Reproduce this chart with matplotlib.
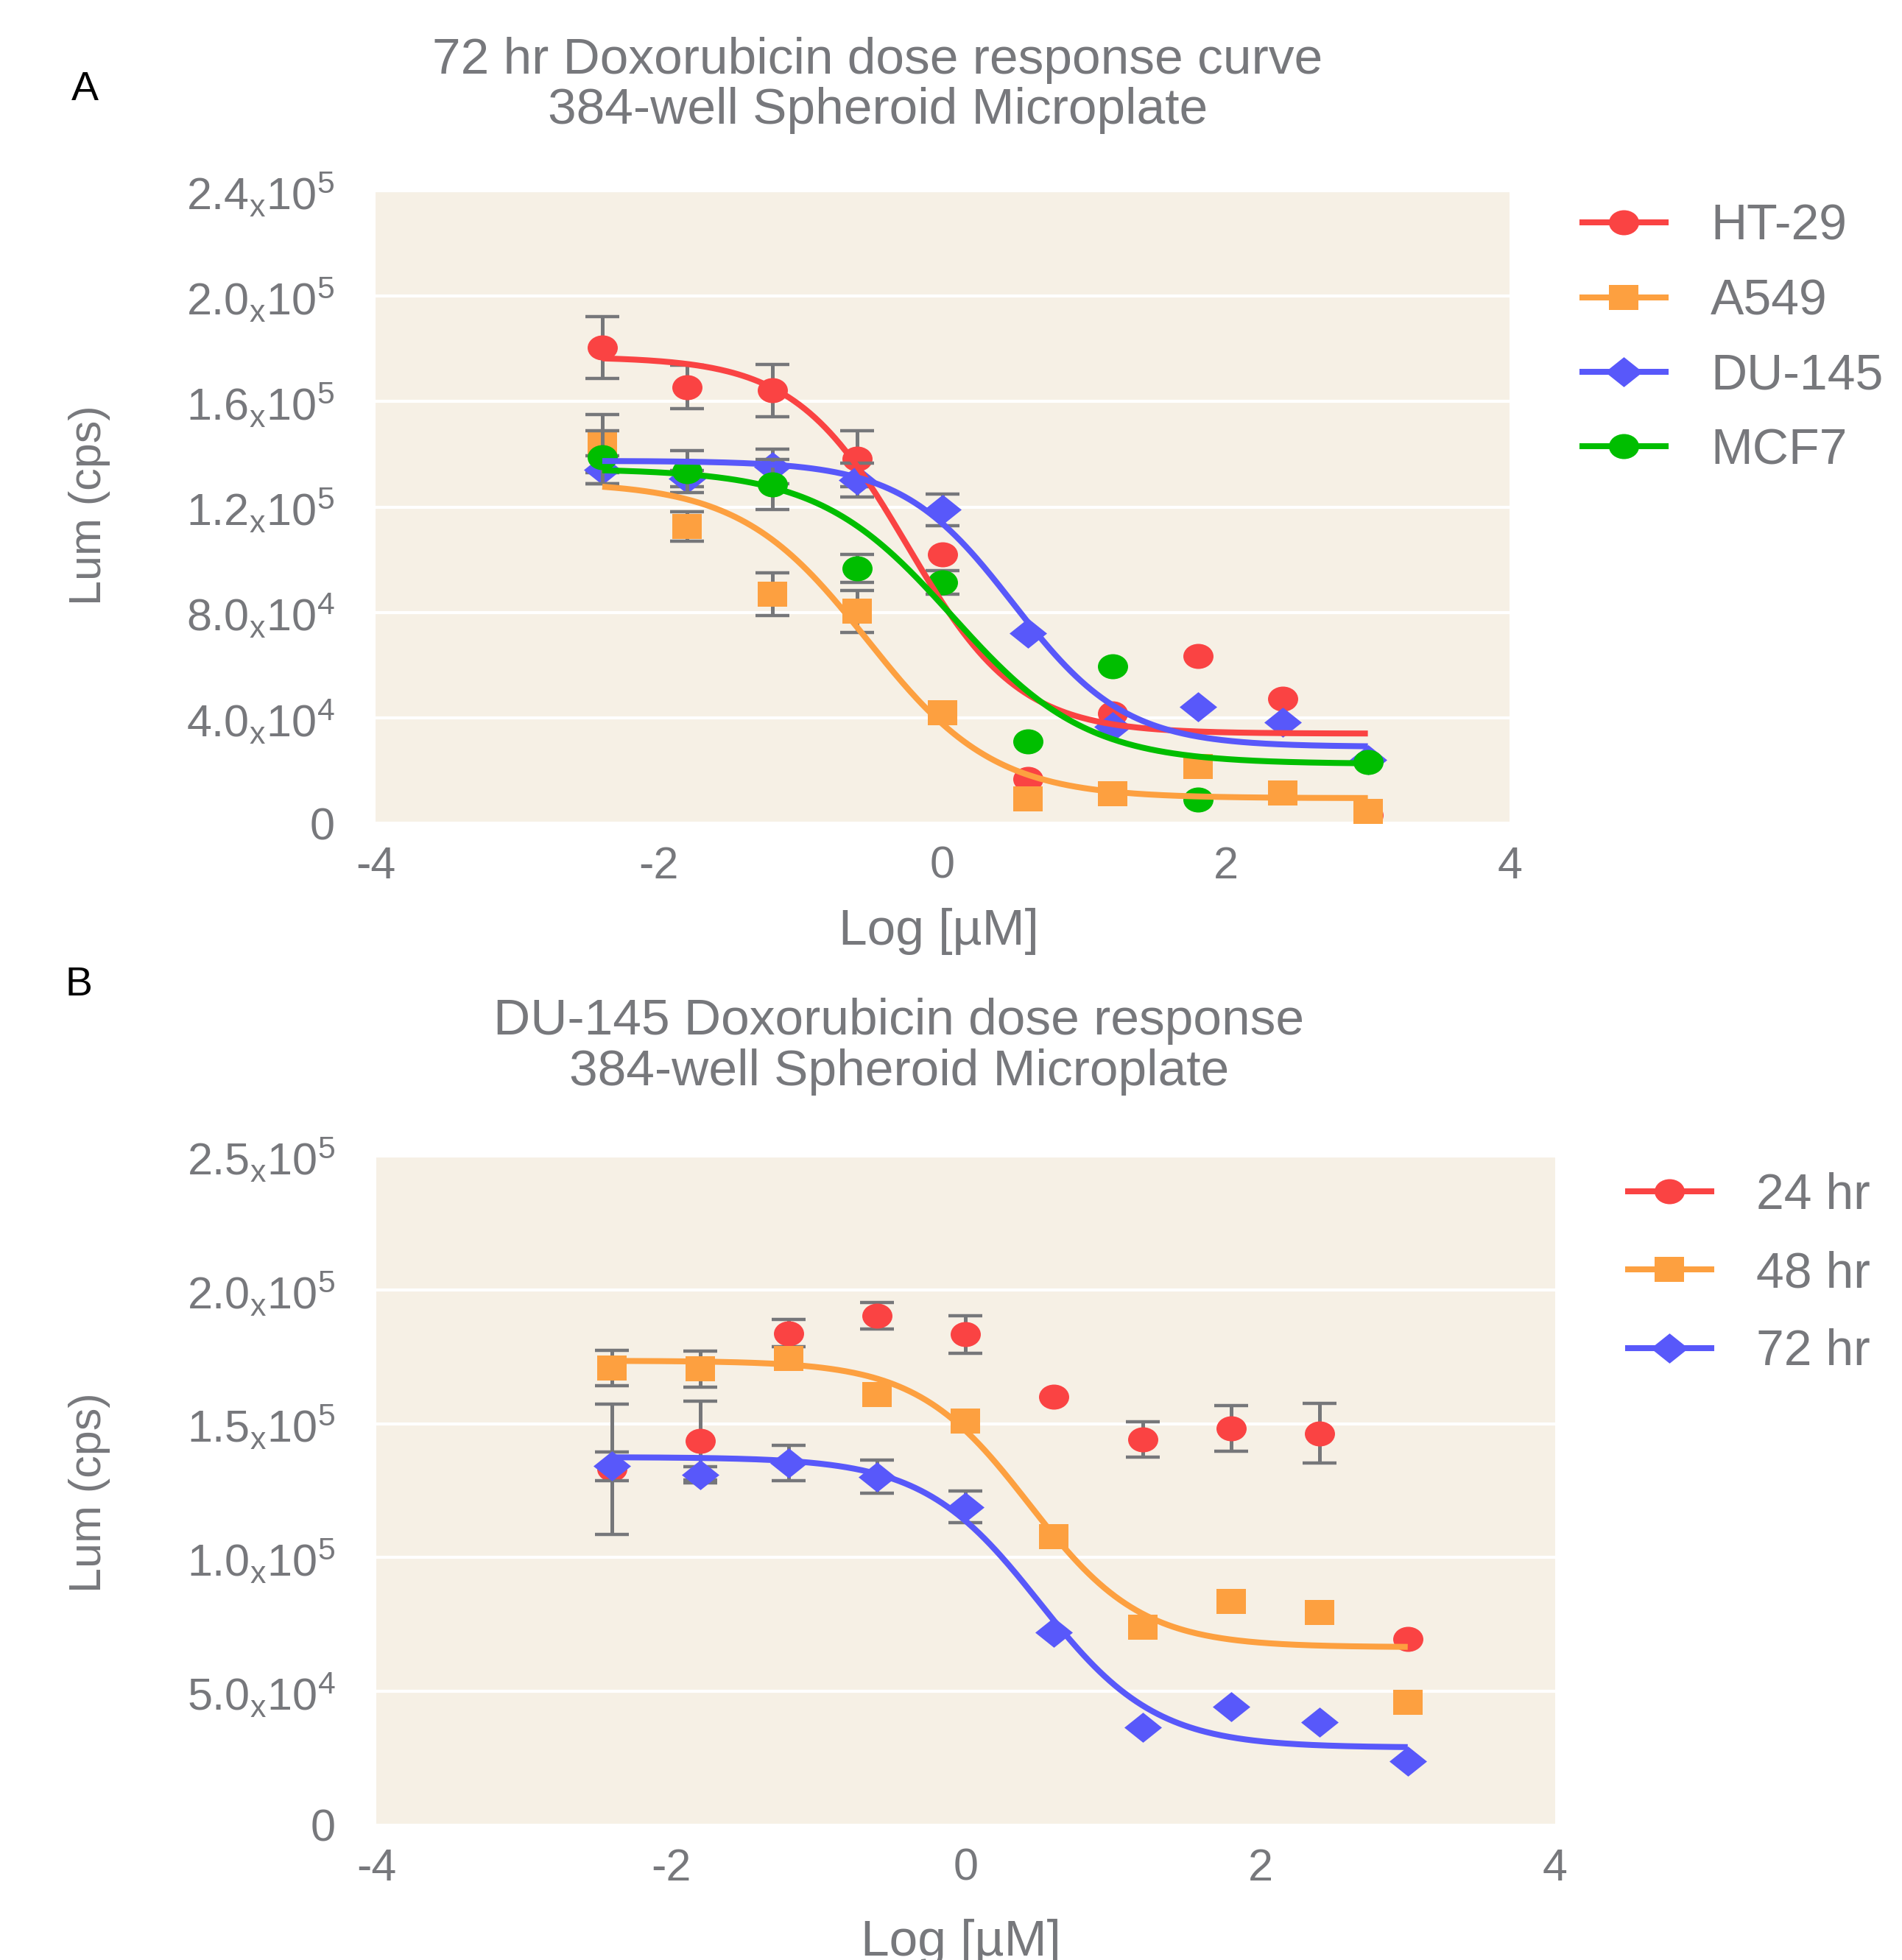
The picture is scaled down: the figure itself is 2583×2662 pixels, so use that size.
import matplotlib
matplotlib.use("Agg")
import matplotlib.pyplot as plt
import numpy as np
from matplotlib.path import Path
from matplotlib.transforms import Affine2D
from matplotlib.lines import Line2D

plt.rcParams['font.family'] = ['Liberation Sans', 'DejaVu Sans']
plt.rcParams['mathtext.fontset'] = 'custom'
plt.rcParams['mathtext.rm'] = 'Liberation Sans'
plt.rcParams['mathtext.it'] = 'Liberation Sans:italic'

# ---- data (values in counts, x = log[uM]) ----
log_conc = [-2.4, -1.8, -1.2, -0.6, 0.0, 0.6, 1.2, 1.8, 2.4, 3.0]
nan = np.nan

ht29 = [180500, 165500, 164200, 138300, 101900, 16700, 41600, 63300, 47100, 3000]
ht29_err = [11700, 8200, 10000, 10500, nan, nan, nan, nan, nan, nan]
a549 = [144000, 112600, 86800, 80400, 42000, 9200, 11200, 21600, 11500, 4400]
a549_err = [11000, 5700, 8100, 7900, nan, nan, nan, nan, nan, nan]
du145 = [134100, 130800, 135300, 130200, 118900, 72000, 36500, 44200, 38400, 24000]
du145_err = [5400, 3000, 6600, 6300, 5900, nan, nan, nan, nan, nan]
mcf7 = [138800, 133500, 128500, 96800, 91300, 30900, 59500, 9000, nan, 23200]
mcf7_err = [10000, 8000, 9400, 5300, 4500, nan, nan, nan, nan, nan]

hr24 = [133000, 143600, 183800, 190300, 183400, 160000, 144100, 148300, 146400, 69600]
hr24_err = [24400, 14700, 5000, 5000, 7000, nan, 6700, 8500, 11100, nan]
hr48 = [170800, 170400, 174300, 160900, 151000, 107700, 73900, 83500, 79500, 45800]
hr48_err = [6600, 6700, nan, nan, nan, nan, nan, nan, nan, nan]
hr72 = du145
hr72_err = du145_err

# 4PL fit parameters: top, bottom, logIC50, hill
fit_ht29 = [177000, 34000, -0.25, 1.1]
fit_a549 = [129500, 9500, -0.53, 0.97]
fit_du145 = [137500, 29000, 0.5, 1.1]
fit_mcf7 = [134500, 22500, 0.07, 0.92]
fit_hr48 = [173500, 66500, 0.43, 1.14]

xticks = [-4, -2, 0, 2, 4]
xtick_labels = ["-4", "-2", "0", "2", "4"]
yticks_a = [0, 40000, 80000, 120000, 160000, 200000, 240000]
ytick_labels_a = ["0",
                  r"$\mathrm{4.0}_{\mathrm{x}}\mathrm{10}^{\mathrm{4}}$",
                  r"$\mathrm{8.0}_{\mathrm{x}}\mathrm{10}^{\mathrm{4}}$",
                  r"$\mathrm{1.2}_{\mathrm{x}}\mathrm{10}^{\mathrm{5}}$",
                  r"$\mathrm{1.6}_{\mathrm{x}}\mathrm{10}^{\mathrm{5}}$",
                  r"$\mathrm{2.0}_{\mathrm{x}}\mathrm{10}^{\mathrm{5}}$",
                  r"$\mathrm{2.4}_{\mathrm{x}}\mathrm{10}^{\mathrm{5}}$"]
yticks_b = [0, 50000, 100000, 150000, 200000, 250000]
ytick_labels_b = ["0",
                  r"$\mathrm{5.0}_{\mathrm{x}}\mathrm{10}^{\mathrm{4}}$",
                  r"$\mathrm{1.0}_{\mathrm{x}}\mathrm{10}^{\mathrm{5}}$",
                  r"$\mathrm{1.5}_{\mathrm{x}}\mathrm{10}^{\mathrm{5}}$",
                  r"$\mathrm{2.0}_{\mathrm{x}}\mathrm{10}^{\mathrm{5}}$",
                  r"$\mathrm{2.5}_{\mathrm{x}}\mathrm{10}^{\mathrm{5}}$"]

# ---- styles ----
RED = "#FA4343"
ORANGE = "#FDA040"
BLUE = "#5858FA"
GREEN = "#00BE00"
BG = "#F6F0E5"
GRAY = "#77787C"
ERR = "#76777A"

ellipse = Path.unit_circle().transformed(Affine2D().scale(1, 0.83))
square = Path([(-1, -0.85), (1, -0.85), (1, 0.85), (-1, 0.85), (-1, -0.85)],
              [Path.MOVETO, Path.LINETO, Path.LINETO, Path.LINETO, Path.CLOSEPOLY])
diamond = Path([(0, 0.8), (1, 0), (0, -0.8), (-1, 0), (0, 0.8)],
               [Path.MOVETO, Path.LINETO, Path.LINETO, Path.LINETO, Path.CLOSEPOLY])
msize = {id(ellipse): 29.5, id(square): 29.5, id(diamond): 36.7}


def four_pl(x, p):
    top, bottom, c, h = p
    return bottom + (top - bottom) / (1 + 10 ** ((x - c) * h))


def draw_panel(ax, series, yticks, ylabels):
    ax.set_facecolor(BG)
    for s in ax.spines.values():
        s.set_visible(False)
    xs = np.array(log_conc)
    for vals, err, color, mk, fit in series:
        ax.errorbar(xs, vals, yerr=err, fmt='none', ecolor=ERR, elinewidth=3.6,
                    capsize=16.5, capthick=3.2, zorder=2)
        ax.plot(xs, vals, linestyle='none', marker=mk, ms=msize[id(mk)],
                color=color, mew=0, zorder=2)
    for vals, err, color, mk, fit in series:
        if fit is not None:
            xf = np.linspace(xs[0], xs[-1], 300)
            ax.plot(xf, four_pl(xf, fit), color=color, lw=5.8, zorder=3,
                    solid_capstyle='butt')
    ax.set_xlim(-4, 4)
    ax.set_ylim(yticks[0], yticks[-1])
    ax.set_xticks(xticks)
    ax.set_xticklabels(xtick_labels)
    ax.set_yticks(yticks)
    ax.set_yticklabels(ylabels)
    ax.grid(axis='y', color='white', lw=3)
    ax.set_axisbelow(True)
    ax.tick_params(axis='both', length=0, labelsize=44, labelcolor=GRAY)
    ax.tick_params(axis='y', pad=40)
    ax.tick_params(axis='x', pad=22)


def add_legend(ax, series, labels, anchor, spacing):
    handles = [Line2D([0], [0], color=c, lw=5.8, marker=mk, ms=msize[id(mk)], mew=0)
               for _, _, c, mk, _ in series]
    leg = ax.legend(handles, labels, loc='upper left', bbox_to_anchor=anchor,
                    bbox_transform=fig.transFigure, frameon=False, fontsize=49,
                    borderpad=0, borderaxespad=0, handlelength=1.66,
                    handletextpad=0.9, labelspacing=spacing, numpoints=1)
    for t in leg.get_texts():
        t.set_color(GRAY)


fig = plt.figure(figsize=(25.83, 26.62), dpi=100)

ax_a = fig.add_axes([0.1974, 0.58, 0.5963, 0.3227])
series_a = [(ht29, ht29_err, RED, ellipse, fit_ht29),
            (a549, a549_err, ORANGE, square, fit_a549),
            (du145, du145_err, BLUE, diamond, fit_du145),
            (mcf7, mcf7_err, GREEN, ellipse, fit_mcf7)]
draw_panel(ax_a, series_a, yticks_a, ytick_labels_a)
add_legend(ax_a, series_a, ["HT-29", "A549", "DU-145", "MCF7"],
           (2149 / 2583, 1 - 276 / 2662), 0.55)

ax_b = fig.add_axes([0.1978, 0.06875, 0.6198, 0.3415])
series_b = [(hr24, hr24_err, RED, ellipse, None),
            (hr48, hr48_err, ORANGE, square, fit_hr48),
            (hr72, hr72_err, BLUE, diamond, fit_du145)]
draw_panel(ax_b, series_b, yticks_b, ytick_labels_b)
add_legend(ax_b, series_b, ["24 hr", "48 hr", "72 hr"],
           (2211 / 2583, 1 - 1592 / 2662), 0.62)

W, H = 2583, 2662
fig.text(1192 / W, 1 - 116 / H, "72 hr Doxorubicin dose response curve\n384-well Spheroid Microplate",
         ha='center', va='center', fontsize=50, color=GRAY, linespacing=1.1)
fig.text(1221 / W, 1 - 1421 / H, "DU-145 Doxorubicin dose response\n384-well Spheroid Microplate",
         ha='center', va='center', fontsize=50, color=GRAY, linespacing=1.1)
fig.text(115 / W, 1 - 122 / H, "A", ha='center', va='center', fontsize=40, color='black')
fig.text(107 / W, 1 - 1338 / H, "B", ha='center', va='center', fontsize=40, color='black')
fig.text(121 / W, 1 - 686 / H, "Lum (cps)", rotation=90, ha='center', va='center',
         fontsize=44, color=GRAY)
fig.text(121 / W, 1 - 2027 / H, "Lum (cps)", rotation=90, ha='center', va='center',
         fontsize=44, color=GRAY)
fig.text(1275 / W, 1 - 1265 / H, "Log [\u00b5M]", ha='center', va='center', fontsize=50, color=GRAY)
fig.text(1305 / W, 1 - 2638 / H, "Log [\u00b5M]", ha='center', va='center', fontsize=50, color=GRAY)

fig.savefig("out.png", dpi=100, facecolor='white')
